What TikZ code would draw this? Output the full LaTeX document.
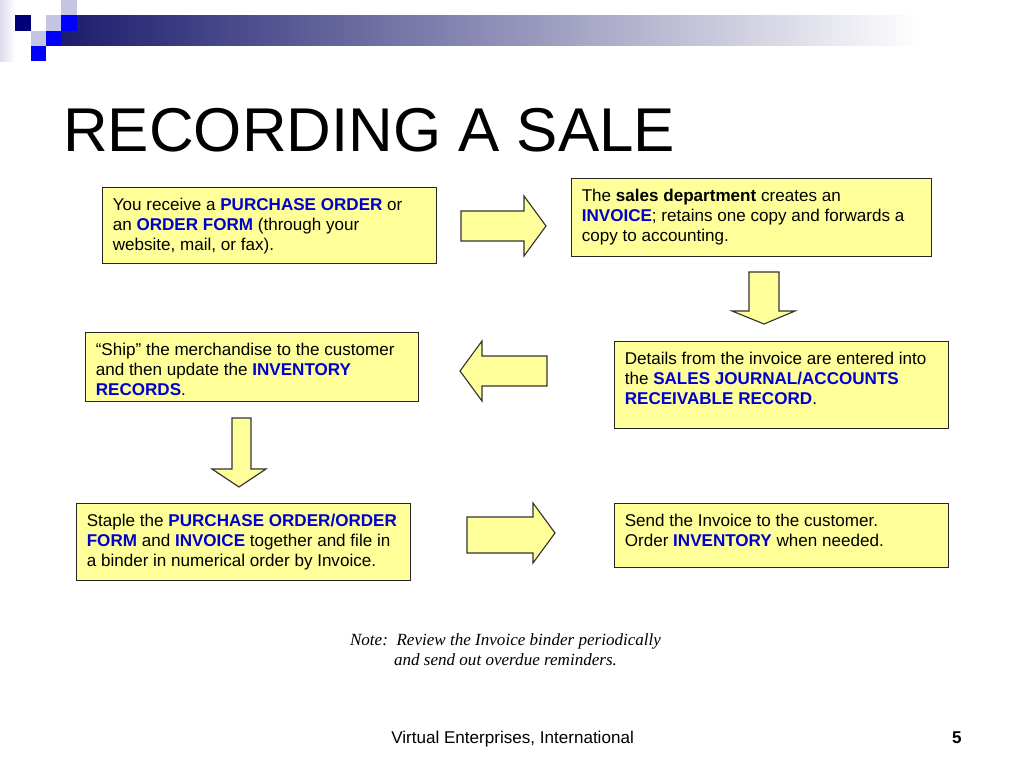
\documentclass[tikz,border=0pt]{standalone}
\usepackage{fontspec}
\setmainfont{Liberation Sans}
\newfontfamily\notefont{Liberation Serif}
\usepackage{xcolor}
\usepackage{tikz}
\usetikzlibrary{positioning,calc}

\definecolor{boxyellow}{RGB}{255,255,153}
\definecolor{keyblue}{RGB}{0,0,204}
\definecolor{barnavy}{RGB}{28,28,110}
\definecolor{sqnavy}{RGB}{0,0,120}
\definecolor{sqblue}{RGB}{0,0,255}
\definecolor{sqlav}{RGB}{196,196,228}
\newcommand{\kw}[1]{\textbf{\color{keyblue}#1}}

\tikzset{
    stepbox/.style={draw=black!85, fill=boxyellow, line width=0.8pt, anchor=north west,
        inner xsep=7.2pt, inner ysep=6pt, font=\fontsize{12}{14.2}\selectfont},
    fatarrow/.style={draw=black!80, fill=boxyellow, line width=0.8pt, line join=miter}
}

\begin{document}
\begin{tikzpicture}[x=0.703125pt, y=-0.703125pt]
    \useasboundingbox (0,0) rectangle (1024,768);
    \fill[white] (0,0) rectangle (1024,768);

    % Header bar
    \shade[left color=sqlav!60, right color=white] (0,0) rectangle (15.3,61.2);
    \shade[left color=barnavy, right color=white] (61.2,15.3) rectangle (920,45.9);
    \foreach \i/\j/\c in {1/1/sqnavy, 3/1/sqlav, 4/0/sqlav, 2/2/sqlav, 4/1/sqblue, 3/2/sqblue, 2/3/sqblue}
        \fill[\c] (15.3*\i,15.3*\j) rectangle ++(15.3,15.3);

    % Title
    \node[anchor=base west, inner sep=0pt, font=\fontsize{43.5}{50}\selectfont] (title) at (63,152) {RECORDING A SALE};

    % Steps
    \node[stepbox] (order) at (102,187) {\parbox[c][41.4pt][t]{220.4pt}{\raggedright\strut
        You receive a \kw{PURCHASE ORDER} or\\
        an \kw{ORDER FORM} (through your\\
        website, mail, or fax).}};
    \node[stepbox] (invoice) at (571,178) {\parbox[c][42.8pt][t]{238.7pt}{\raggedright\strut
        The \textbf{sales department} creates an\\
        \kw{INVOICE}; retains one copy and forwards a\\
        copy to accounting.}};
    \node[stepbox] (journal) at (614,341) {\parbox[c][49.2pt][t]{220.4pt}{\raggedright\strut
        Details from the invoice are entered into\\
        the \kw{SALES JOURNAL/ACCOUNTS}\\
        \kw{RECEIVABLE RECORD}.}};
    \node[stepbox] (ship) at (85,332) {\parbox[c][36.5pt][t]{219.7pt}{\raggedright\strut
        ``Ship'' the merchandise to the customer\\
        and then update the \kw{INVENTORY}\\
        \kw{RECORDS}.}};
    \node[stepbox] (staple) at (76,503) {\parbox[c][42.1pt][t]{220.4pt}{\raggedright\strut
        Staple the \kw{PURCHASE ORDER/ORDER}\\
        \kw{FORM} and \kw{INVOICE} together and file in\\
        a binder in numerical order by Invoice.}};
    \node[stepbox] (send) at (614,503) {\parbox[c][33pt][t]{220.4pt}{\raggedright\strut
        Send the Invoice to the customer.\\
        Order \kw{INVENTORY} when needed.}};

    % Block arrows
    \draw[fatarrow] (461,211) -- (524,211) -- (524,196) -- (546,226) -- (524,256) -- (524,241) -- (461,241) -- cycle;
    \draw[fatarrow] (749,272) -- (779,272) -- (779,311) -- (795,311) -- (764,324) -- (732,311) -- (749,311) -- cycle;
    \draw[fatarrow] (547,356) -- (482,356) -- (482,341) -- (460,371) -- (482,401) -- (482,386) -- (547,386) -- cycle;
    \draw[fatarrow] (232,418) -- (251,418) -- (251,469) -- (266,469) -- (239,487) -- (212,469) -- (232,469) -- cycle;
    \draw[fatarrow] (467,517) -- (533,517) -- (533,503) -- (555,533) -- (533,563) -- (533,553) -- (467,553) -- cycle;

    % Note
    \node[align=center, inner sep=0pt, font=\notefont\itshape\fontsize{12}{14}\selectfont] (note) at (505.5,650)
        {Note:\ \ Review the Invoice binder periodically\\and send out overdue reminders.};

    % Footer
    \node[anchor=base west, inner sep=0pt, font=\fontsize{12}{14}\selectfont] (footer) at (391,743) {Virtual Enterprises, International};
    \node[anchor=base east, inner sep=0pt, font=\bfseries\fontsize{12}{14}\selectfont] (pagenum) at (962,743) {5};
\end{tikzpicture}
\end{document}
